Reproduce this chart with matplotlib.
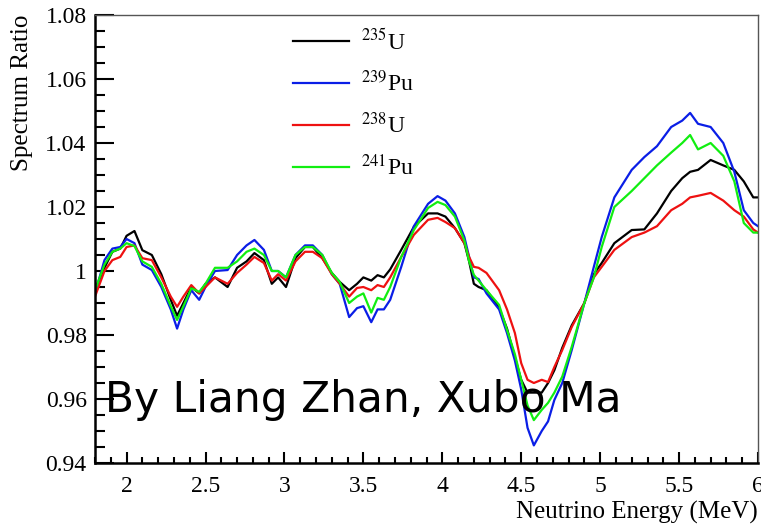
import numpy as np
import matplotlib
matplotlib.use("Agg")
import matplotlib.pyplot as plt
from matplotlib.ticker import MultipleLocator, FuncFormatter

plt.rcParams['font.family'] = 'Liberation Serif'
plt.rcParams['mathtext.fontset'] = 'stix'

# neutrino energy grid (MeV)
energy = [1.80, 1.86, 1.91, 1.96, 2.00, 2.05, 2.10, 2.16, 2.22, 2.28,
          2.32, 2.36, 2.41, 2.46, 2.50, 2.56, 2.64, 2.70, 2.76, 2.81,
          2.87, 2.92, 2.96, 3.01, 3.07, 3.13, 3.18, 3.24, 3.30, 3.35,
          3.41, 3.46, 3.50, 3.55, 3.59, 3.63, 3.67, 3.74, 3.82, 3.91,
          3.97, 4.02, 4.08, 4.14, 4.17, 4.20, 4.23, 4.28, 4.36, 4.41,
          4.46, 4.50, 4.54, 4.58, 4.63, 4.67, 4.71, 4.76, 4.82, 4.90,
          4.96, 5.01, 5.09, 5.20, 5.28, 5.36, 5.45, 5.52, 5.57, 5.62,
          5.70, 5.78, 5.85, 5.91, 5.97, 6.00]

u235 = [0.994, 1.001, 1.006, 1.007, 1.011, 1.0125, 1.0065, 1.005, 0.999, 0.991,
        0.986, 0.990, 0.995, 0.993, 0.996, 0.998, 0.995, 1.001, 1.003, 1.0056,
        1.0034, 0.996, 0.998, 0.995, 1.004, 1.0075, 1.0075, 1.004, 0.9994, 0.9966,
        0.994, 0.996, 0.998, 0.997, 0.9987, 0.998, 1.0005, 1.0066, 1.0138, 1.018,
        1.018, 1.017, 1.0134, 1.0087, 1.003, 0.996, 0.995, 0.994, 0.9885, 0.982,
        0.973, 0.966, 0.962, 0.962, 0.962, 0.965, 0.969, 0.976, 0.983, 0.990,
        0.999, 1.0025, 1.0087, 1.0128, 1.013, 1.018, 1.025, 1.029, 1.031, 1.0316,
        1.0347, 1.033, 1.0316, 1.028, 1.023, 1.023]

pu239 = [0.993, 1.0034, 1.007, 1.0075, 1.010, 1.0087, 1.002, 1.0003, 0.995, 0.988,
         0.982, 0.988, 0.994, 0.991, 0.995, 1.000, 1.0003, 1.005, 1.008, 1.0097,
         1.0066, 1.000, 1.000, 0.998, 1.005, 1.008, 1.008, 1.005, 0.999, 0.996,
         0.9856, 0.9884, 0.989, 0.984, 0.988, 0.988, 0.991, 1.0013, 1.014, 1.021,
         1.0234, 1.022, 1.018, 1.0106, 1.0044, 0.998, 0.9975, 0.993, 0.988, 0.9806,
         0.972, 0.963, 0.951, 0.9455, 0.950, 0.953, 0.9597, 0.965, 0.9753, 0.990,
         1.0013, 1.0106, 1.023, 1.0316, 1.0356, 1.039, 1.045, 1.047, 1.0494, 1.046,
         1.045, 1.040, 1.031, 1.019, 1.015, 1.014]

u238 = [0.992, 1.000, 1.0034, 1.0044, 1.0075, 1.008, 1.004, 1.0034, 0.998, 0.992,
        0.9888, 0.992, 0.9956, 0.993, 0.995, 0.998, 0.996, 0.9994, 1.002, 1.0044,
        1.0025, 0.997, 0.999, 0.997, 1.003, 1.006, 1.006, 1.004, 0.999, 0.996,
        0.992, 0.9947, 0.995, 0.994, 0.9956, 0.995, 0.998, 1.0044, 1.0113, 1.016,
        1.0166, 1.0153, 1.0134, 1.0087, 1.0044, 1.0013, 1.001, 0.9994, 0.994, 0.988,
        0.9806, 0.9712, 0.966, 0.965, 0.966, 0.9653, 0.970, 0.9753, 0.9825, 0.990,
        0.998, 1.0013, 1.0066, 1.0106, 1.012, 1.014, 1.019, 1.021, 1.023, 1.0235,
        1.0244, 1.022, 1.019, 1.017, 1.013, 1.012]

pu241 = [0.994, 1.002, 1.006, 1.007, 1.0087, 1.0078, 1.003, 1.0013, 0.996, 0.989,
         0.9847, 0.989, 0.9946, 0.9935, 0.996, 1.001, 1.001, 1.003, 1.006, 1.007,
         1.005, 1.000, 1.000, 0.998, 1.005, 1.0075, 1.0075, 1.005, 0.9994, 0.9966,
         0.990, 0.992, 0.993, 0.987, 0.9916, 0.991, 0.995, 1.0044, 1.0128, 1.0197,
         1.0216, 1.0206, 1.017, 1.0095, 1.003, 0.9988, 0.997, 0.994, 0.9894, 0.9816,
         0.974, 0.966, 0.958, 0.9534, 0.9566, 0.9588, 0.962, 0.967, 0.9763, 0.990,
         0.998, 1.0075, 1.020, 1.025, 1.029, 1.033, 1.037, 1.040, 1.0425, 1.038,
         1.040, 1.036, 1.028, 1.015, 1.012, 1.012]

series = [(u235, '#000000', r'$^{235}$U'),
          (pu239, '#0a1ee6', r'$^{239}$Pu'),
          (u238, '#ee1111', r'$^{238}$U'),
          (pu241, '#11ee11', r'$^{241}$Pu')]

fig = plt.figure(figsize=(7.61, 5.24), dpi=100)
ax = fig.add_axes([95/761, 1 - 463/524, 663/761, 448/524])

for vals, col, lab in series:
    ax.plot(energy, vals, color=col, lw=1.6, label=lab)

ax.set_xlim(1.8, 6.0)
ax.set_ylim(0.94, 1.08)

ax.xaxis.set_major_locator(MultipleLocator(0.5))
ax.xaxis.set_minor_locator(MultipleLocator(0.1))
ax.yaxis.set_major_locator(MultipleLocator(0.02))
ax.yaxis.set_minor_locator(MultipleLocator(0.005))
fmt = FuncFormatter(lambda v, p: '%g' % round(v, 3))
ax.xaxis.set_major_formatter(fmt)
ax.yaxis.set_major_formatter(fmt)

ax.tick_params(axis='both', which='both', direction='in', labelsize=17, width=1.5,
               top=False, right=False)
ax.tick_params(axis='y', which='major', length=14, pad=6)
ax.tick_params(axis='y', which='minor', length=7)
ax.tick_params(axis='x', which='major', length=8, pad=9)
ax.tick_params(axis='x', which='minor', length=4)

ax.spines['left'].set_linewidth(1.8)
ax.spines['bottom'].set_linewidth(1.8)
for s in ['top', 'right']:
    ax.spines[s].set_linewidth(1.0)
    ax.spines[s].set_color('#555555')

ax.set_xlabel('Neutrino Energy (MeV)', fontsize=18)
ax.xaxis.set_label_coords(1.0, -0.085)
ax.xaxis.label.set_horizontalalignment('right')
ax.set_ylabel('Spectrum Ratio', fontsize=18)
ax.yaxis.set_label_coords(-0.11, 1.0)
ax.yaxis.label.set_verticalalignment('center')
ax.yaxis.label.set_horizontalalignment('right')

ax.legend(loc='upper left', bbox_to_anchor=(0.266, 1.018), frameon=False, fontsize=17,
          handlelength=2.4, handletextpad=0.5, labelspacing=0.7)

fig.text(105/761, 1 - 412/524, 'By Liang Zhan, Xubo Ma', fontsize=30.5,
         family='DejaVu Sans', va='baseline', ha='left')

fig.savefig('out.png', dpi=100)
